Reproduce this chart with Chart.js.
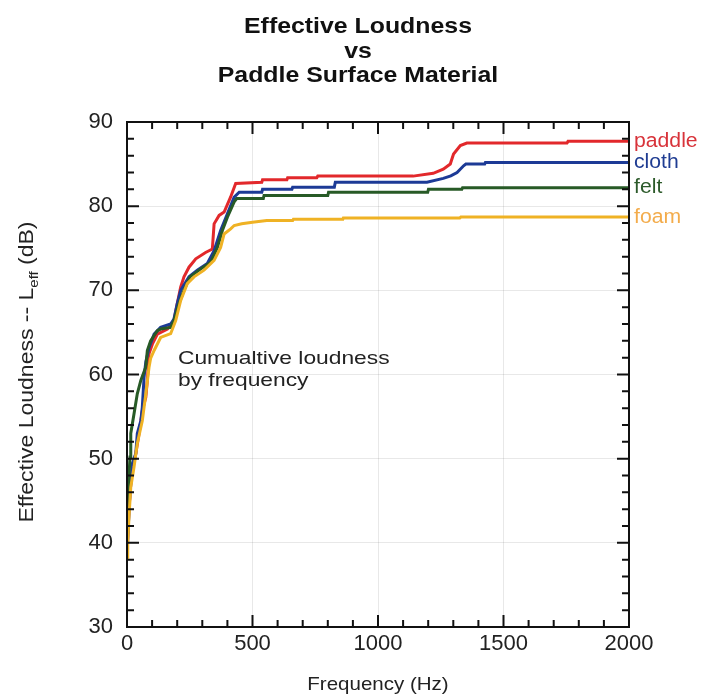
<!DOCTYPE html>
<html>
<head>
<meta charset="utf-8">
<script src="https://cdn.jsdelivr.net/npm/chart.js@4"></script>
<style>
  html, body { margin: 0; padding: 0; background: #fff; }
  #c { display: block; }
</style>
</head>
<body>
<canvas id="c" width="708" height="698"></canvas>
<script>
// ---- data ----
const seriesNames = ['paddle', 'cloth', 'felt', 'foam'];

const paddleFreq = [2, 8, 15, 21, 35, 48, 61, 75, 81, 88, 101, 121, 161, 187, 200, 214, 227, 247, 274, 313, 340, 347, 367, 387, 413, 433, 537, 540, 637, 640, 756, 760, 1140, 1220, 1260, 1288, 1301, 1328, 1354, 1753, 1757, 2000];
const paddleDb   = [40, 44, 47, 48.6, 50.6, 53, 55.7, 57.3, 59.3, 62.5, 63.6, 64.8, 65.4, 66.4, 68.4, 70.4, 71.6, 72.75, 73.75, 74.5, 74.9, 77.9, 78.9, 79.3, 81.1, 82.7, 82.85, 83.13, 83.13, 83.37, 83.37, 83.57, 83.57, 83.9, 84.4, 85.0, 86.2, 87.2, 87.5, 87.5, 87.7, 87.7];

const clothFreq = [2, 10, 21, 35, 41, 55, 61, 68, 75, 88, 108, 134, 174, 187, 200, 214, 247, 280, 320, 347, 373, 400, 427, 447, 537, 540, 657, 660, 826, 830, 1195, 1260, 1290, 1315, 1341, 1350, 1425, 1428, 2000];
const clothDb   = [40, 45, 49.4, 50.6, 53, 54.5, 56.1, 59.7, 61.5, 63.2, 64.8, 65.6, 66, 66.6, 68.4, 70, 71.6, 72.4, 73.2, 74.7, 77.1, 79.1, 81.07, 81.65, 81.65, 82.0, 82.0, 82.26, 82.26, 82.85, 82.85, 83.3, 83.6, 84.0, 84.8, 85.0, 85.0, 85.2, 85.2];

const feltFreq = [0, 3, 8, 12, 15, 28, 41, 55, 75, 81, 94, 121, 134, 174, 187, 207, 227, 251, 294, 334, 360, 380, 400, 427, 437, 543, 546, 800, 803, 1198, 1201, 1334, 1337, 2000];
const feltDb   = [42, 45, 48, 50.2, 53, 55.35, 57.7, 59.3, 60.9, 62.85, 64, 65.2, 65.4, 65.6, 66.4, 68.4, 70, 71.6, 72.55, 73.35, 75.1, 77.1, 78.7, 80.5, 80.9, 80.9, 81.27, 81.27, 81.65, 81.65, 82.0, 82.0, 82.2, 82.2];

const foamFreq = [0, 3, 8, 15, 28, 41, 61, 75, 88, 94, 108, 134, 174, 194, 214, 240, 267, 307, 347, 373, 387, 413, 427, 457, 500, 557, 660, 663, 860, 862, 1326, 1330, 2000];
const foamDb   = [38.3, 40, 43.1, 46.6, 49, 51.8, 54.5, 57.7, 60.9, 61.9, 62.85, 64.4, 64.85, 66.4, 68.8, 70.8, 71.6, 72.4, 73.55, 75.1, 76.7, 77.3, 77.7, 77.9, 78.1, 78.3, 78.3, 78.45, 78.45, 78.6, 78.6, 78.7, 78.7];

const xTicks = [0, 500, 1000, 1500, 2000];
const yTicks = [30, 40, 50, 60, 70, 80, 90];

const titleLines = ['Effective Loudness', 'vs', 'Paddle Surface Material'];
const xTitle = 'Frequency (Hz)';
const yTitleMain = 'Effective Loudness -- L';
const yTitleSub = 'eff';
const yTitleTail = ' (dB)';
const noteLines = ['Cumualtive loudness', 'by frequency'];
const notePos = { x: 203, y: 61.3 };

const lineColors  = { paddle: '#e2282b', cloth: '#1c3a96', felt: '#275a26', foam: '#efb224' };
const labelColors = { paddle: '#d8333a', cloth: '#1f3c92', felt: '#2c5a2a', foam: '#f3ac4c' };

function pts(fx, fy) { return fx.map((f, i) => ({ x: f, y: fy[i] })); }

const FONT = '"Liberation Sans", Arial, Helvetica, sans-serif';

const decor = {
  id: 'decor',
  afterDatasetsDraw(chart) {
    const { ctx, chartArea: a, scales: { x, y } } = chart;
    ctx.save();
    // frame
    ctx.strokeStyle = '#111';
    ctx.lineWidth = 2;
    ctx.strokeRect(a.left, a.top, a.right - a.left, a.bottom - a.top);
    // inward ticks on all four sides
    ctx.lineWidth = 2;
    ctx.beginPath();
    for (let v = 0; v <= 2000; v += 100) {
      const px = x.getPixelForValue(v);
      const len = v % 500 === 0 ? 12 : 7;
      ctx.moveTo(px, a.bottom); ctx.lineTo(px, a.bottom - len);
      ctx.moveTo(px, a.top); ctx.lineTo(px, a.top + len);
    }
    for (let v = 30; v <= 90; v += 2) {
      const py = y.getPixelForValue(v);
      const len = v % 10 === 0 ? 12 : 7;
      ctx.moveTo(a.left, py); ctx.lineTo(a.left + len, py);
      ctx.moveTo(a.right, py); ctx.lineTo(a.right - len, py);
    }
    ctx.stroke();

    // title
    ctx.fillStyle = '#111';
    ctx.textAlign = 'center';
    ctx.textBaseline = 'alphabetic';
    ctx.font = 'bold 22px ' + FONT;
    const tcx = 358;
    titleLines.forEach((t, i) => {
      ctx.save();
      ctx.translate(tcx, 33 + i * 24.5);
      ctx.scale(1.13, 1);
      ctx.fillText(t, 0, 0);
      ctx.restore();
    });

    // x axis title
    ctx.font = '19px ' + FONT;
    ctx.fillStyle = '#222';
    ctx.save();
    ctx.translate((a.left + a.right) / 2, 690);
    ctx.scale(1.08, 1);
    ctx.fillText(xTitle, 0, 0);
    ctx.restore();

    // y axis title with subscript
    ctx.save();
    ctx.translate(33, 372);
    ctx.rotate(-Math.PI / 2);
    ctx.scale(1.15, 1);
    ctx.textAlign = 'left';
    ctx.font = '20px ' + FONT;
    const wMain = ctx.measureText(yTitleMain).width;
    ctx.font = '13px ' + FONT;
    const wSub = ctx.measureText(yTitleSub).width;
    ctx.font = '20px ' + FONT;
    const wTail = ctx.measureText(yTitleTail).width;
    const total = wMain + wSub + wTail;
    let sx = -total / 2;
    ctx.fillText(yTitleMain, sx, 0); sx += wMain;
    ctx.font = '13px ' + FONT;
    ctx.fillText(yTitleSub, sx, 5); sx += wSub;
    ctx.font = '20px ' + FONT;
    ctx.fillText(yTitleTail, sx, 0);
    ctx.restore();

    // annotation
    ctx.textAlign = 'left';
    ctx.font = '19px ' + FONT;
    ctx.fillStyle = '#222';
    const nx = x.getPixelForValue(notePos.x), ny = y.getPixelForValue(notePos.y);
    noteLines.forEach((t, i) => {
      ctx.save();
      ctx.translate(nx, ny + i * 22);
      ctx.scale(1.2, 1);
      ctx.fillText(t, 0, 0);
      ctx.restore();
    });

    // end labels
    ctx.textBaseline = 'middle';
    ctx.font = '20px ' + FONT;
    chart.data.datasets.forEach(ds => {
      const last = ds.data[ds.data.length - 1];
      ctx.fillStyle = labelColors[ds.label];
      ctx.save();
      ctx.translate(a.right + 5, y.getPixelForValue(last.y));
      ctx.scale(1.06, 1);
      ctx.fillText(ds.label, 0, 0);
      ctx.restore();
    });
    ctx.restore();
  }
};

const dataMap = {
  paddle: pts(paddleFreq, paddleDb),
  cloth: pts(clothFreq, clothDb),
  felt: pts(feltFreq, feltDb),
  foam: pts(foamFreq, foamDb)
};
const drawOrder = ['foam', 'felt', 'cloth', 'paddle'];

new Chart(document.getElementById('c'), {
  type: 'line',
  data: {
    datasets: drawOrder.map(n => ({
      label: n,
      data: dataMap[n],
      borderColor: lineColors[n],
      borderWidth: 3,
      pointRadius: 0,
      tension: 0,
      fill: false
    }))
  },
  options: {
    responsive: false,
    animation: false,
    events: [],
    layout: { padding: { left: 0, top: 122, right: 79, bottom: 0 } },
    plugins: { legend: { display: false }, tooltip: { enabled: false }, title: { display: false } },
    scales: {
      x: {
        type: 'linear', min: 0, max: 2000,
        afterBuildTicks: s => { s.ticks = xTicks.map(v => ({ value: v })); },
        afterFit: s => { s.height = 71; },
        grid: { color: 'rgba(0,0,0,0.09)', lineWidth: 1, drawTicks: false },
        border: { display: false },
        ticks: { color: '#222', font: { family: FONT, size: 22 }, padding: 4, maxRotation: 0,
                 callback: v => String(v) }
      },
      y: {
        type: 'linear', min: 30, max: 90,
        afterBuildTicks: s => { s.ticks = yTicks.map(v => ({ value: v })); },
        afterFit: s => { s.width = 127; },
        grid: { color: 'rgba(0,0,0,0.09)', lineWidth: 1, drawTicks: false },
        border: { display: false },
        ticks: { color: '#222', font: { family: FONT, size: 22 }, padding: 14,
                 callback: v => String(v) }
      }
    }
  },
  plugins: [decor]
});
</script>
</body>
</html>
